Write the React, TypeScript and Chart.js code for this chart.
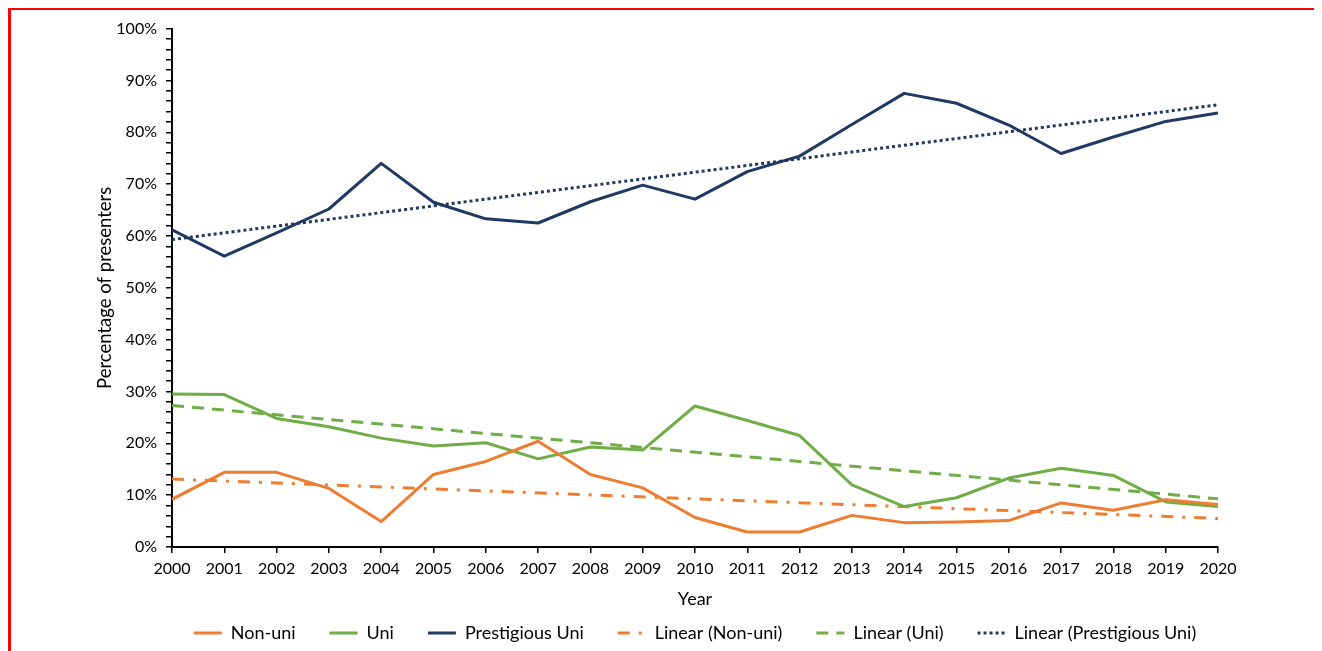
import React, { useEffect, useRef } from 'react';
import { Chart, registerables } from 'chart.js';

Chart.register(...registerables);

const years = [2000, 2001, 2002, 2003, 2004, 2005, 2006, 2007, 2008, 2009, 2010, 2011, 2012, 2013, 2014, 2015, 2016, 2017, 2018, 2019, 2020];
const nonUni = [9.2, 14.4, 14.4, 11.3, 4.9, 14.0, 16.5, 20.4, 14.0, 11.4, 5.7, 2.9, 2.9, 6.1, 4.7, 4.8, 5.1, 8.5, 7.1, 9.1, 8.2];
const uni = [29.5, 29.4, 24.8, 23.2, 21.0, 19.5, 20.1, 17.0, 19.3, 18.7, 27.2, 24.4, 21.5, 12.0, 7.8, 9.5, 13.3, 15.2, 13.8, 8.7, 7.8];
const prestigious = [61.2, 56.1, 60.6, 65.2, 74.0, 66.5, 63.3, 62.5, 66.6, 69.8, 67.1, 72.4, 75.4, 81.5, 87.5, 85.6, 81.4, 75.9, 79.1, 82.1, 83.7];

const trendYears = [2000, 2020];
const nonUniTrend = [13.1, 5.5];
const uniTrend = [27.3, 9.3];
const prestigiousTrend = [59.3, 85.3];

const seriesLabels = ['Non-uni', 'Uni', 'Prestigious Uni', 'Linear (Non-uni)', 'Linear (Uni)', 'Linear (Prestigious Uni)'];

const ORANGE = '#ED7D31';
const GREEN = '#70AD47';
const NAVY = '#203864';
const FONT = 'Lato';

const toPoints = (xs: number[], ys: number[]) => xs.map((x, i) => ({ x, y: ys[i] }));

export default function App() {
  const canvasRef = useRef<HTMLCanvasElement | null>(null);

  useEffect(() => {
    document.documentElement.style.overflow = 'hidden';
    document.body.style.overflow = 'hidden';
    const canvas = canvasRef.current;
    if (!canvas) return;

    const lineBase = {
      borderWidth: 3,
      pointRadius: 0,
      pointHoverRadius: 0,
      tension: 0,
      fill: false,
      borderJoinStyle: 'round' as const,
    };

    const chart = new Chart(canvas, {
      type: 'line',
      data: {
        datasets: [
          { ...lineBase, label: seriesLabels[0], data: toPoints(years, nonUni), borderColor: ORANGE, backgroundColor: ORANGE },
          { ...lineBase, label: seriesLabels[1], data: toPoints(years, uni), borderColor: GREEN, backgroundColor: GREEN },
          { ...lineBase, label: seriesLabels[2], data: toPoints(years, prestigious), borderColor: NAVY, backgroundColor: NAVY },
          { ...lineBase, label: seriesLabels[3], data: toPoints(trendYears, nonUniTrend), borderColor: ORANGE, backgroundColor: ORANGE, borderDash: [12, 9, 3, 9] },
          { ...lineBase, label: seriesLabels[4], data: toPoints(trendYears, uniTrend), borderColor: GREEN, backgroundColor: GREEN, borderDash: [12, 8] },
          { ...lineBase, label: seriesLabels[5], data: toPoints(trendYears, prestigiousTrend), borderColor: NAVY, backgroundColor: NAVY, borderDash: [3, 3] },
        ],
      },
      options: {
        responsive: false,
        animation: false,
        devicePixelRatio: 1,
        layout: { padding: { top: 14, left: 0, right: 0, bottom: 0 } },
        scales: {
          x: {
            type: 'linear',
            min: 2000,
            max: 2020,
            offset: false,
            ticks: {
              stepSize: 1,
              autoSkip: false,
              maxRotation: 0,
              callback: (v: any) => String(v),
              font: { family: FONT, size: 16 },
              color: '#000',
              padding: 6,
            },
            grid: { drawOnChartArea: false, drawTicks: true, tickLength: 6, color: '#000', lineWidth: 1.5 },
            border: { display: true, color: '#000', width: 2 },
            title: {
              display: true,
              text: 'Year',
              font: { family: FONT, size: 18 },
              color: '#000',
              padding: { top: 0, bottom: -19.8 },
            },
            afterFit: (s: any) => { s.height = 43; },
          },
          y: {
            type: 'linear',
            position: 'left',
            min: 0,
            max: 100,
            ticks: {
              stepSize: 2,
              autoSkip: false,
              callback: (v: any) => (Number(v) % 10 === 0 ? `${v}%` : ''),
              font: { family: FONT, size: 16 },
              color: '#000',
              padding: 9,
            },
            grid: { drawOnChartArea: false, drawTicks: true, tickLength: 6, color: '#000', lineWidth: 1.5 },
            border: { display: true, color: '#000', width: 2 },
            title: {
              display: true,
              text: 'Percentage of presenters',
              font: { family: FONT, size: 18.5 },
              color: '#000',
              padding: { top: 83, bottom: 0 },
            },
            afterFit: (s: any) => { s.width = 161; },
          },
          yR: {
            type: 'linear',
            position: 'right',
            display: true,
            grid: { display: false, drawTicks: false },
            border: { display: false },
            ticks: { display: false },
            afterFit: (s: any) => { s.width = 161; },
          },
        },
        plugins: {
          tooltip: { enabled: false },
          legend: {
            position: 'bottom',
            labels: {
              usePointStyle: true,
              pointStyle: 'line',
              pointStyleWidth: 28,
              padding: 34,
              font: { family: FONT, size: 18 },
              color: '#000',
              generateLabels: (c: any) =>
                c.data.datasets.map((ds: any, i: number) => ({
                  text: ds.label,
                  fillStyle: ds.borderColor,
                  strokeStyle: ds.borderColor,
                  fontColor: '#000',
                  lineWidth: 3,
                  lineDash: ds.borderDash || [],
                  lineDashOffset: 0,
                  lineCap: 'butt',
                  lineJoin: 'miter',
                  pointStyle: 'line',
                  rotation: 0,
                  hidden: false,
                  datasetIndex: i,
                })),
            },
          },
        },
      },
    });

    return () => chart.destroy();
  }, []);

  return (
    <div style={{ marginTop: -1, border: '3px solid #FF0000', width: 1368, height: 642, background: '#fff' }}>
      <canvas ref={canvasRef} width={1368} height={642} style={{ display: 'block' }} />
    </div>
  );
}
